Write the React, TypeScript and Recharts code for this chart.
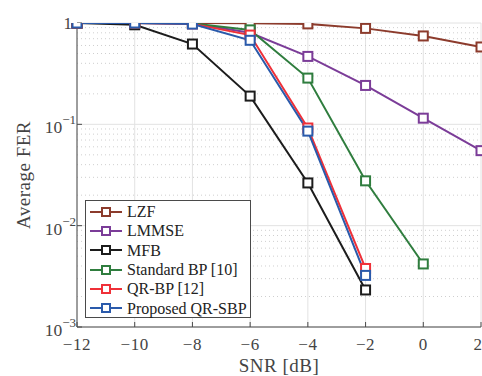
import React from "react";
import {
  LineChart,
  Line,
  XAxis,
  YAxis,
  CartesianGrid,
  Legend,
  ReferenceLine,
} from "recharts";

// SNR [dB]
const snr = [-12, -10, -8, -6, -4, -2, 0, 2];

// Average FER per detector
const lzf = [1, 1, 1, 0.995, 0.98, 0.885, 0.745, 0.58];
const lmmse = [1, 1, 0.99, 0.8, 0.468, 0.242, 0.115, 0.055];
const mfb = [1, 0.96, 0.62, 0.19, 0.0264, 0.00232, null, null];
const standardBp = [1, 1, 0.99, 0.855, 0.286, 0.0277, 0.00419, null];
const qrBp = [1, 1, 0.98, 0.76, 0.092, 0.00378, null, null];
const proposed = [1, 1, 0.975, 0.675, 0.0857, 0.00323, null, null];

const yTicks = [0.001, 0.01, 0.1, 1];
const yTickLabels = ["10|−3", "10|−2", "10|−1", "1"];
const minorTicks = [
  0.002, 0.003, 0.004, 0.005, 0.006, 0.007, 0.008, 0.009,
  0.02, 0.03, 0.04, 0.05, 0.06, 0.07, 0.08, 0.09,
  0.2, 0.3, 0.4, 0.5, 0.6, 0.7, 0.8, 0.9,
];

const series = [
  { key: "lzf", name: "LZF", color: "#8c3b2c" },
  { key: "lmmse", name: "LMMSE", color: "#7b3c98" },
  { key: "mfb", name: "MFB", color: "#1c1c1c" },
  { key: "standardBp", name: "Standard BP [10]", color: "#2f7d3e" },
  { key: "qrBp", name: "QR-BP [12]", color: "#ef3038" },
  { key: "proposed", name: "Proposed QR-SBP", color: "#2a5aab" },
];

const data = snr.map((s, i) => ({
  snr: s,
  lzf: lzf[i],
  lmmse: lmmse[i],
  mfb: mfb[i],
  standardBp: standardBp[i],
  qrBp: qrBp[i],
  proposed: proposed[i],
}));

const FONT = '"Liberation Serif", "Times New Roman", serif';
const AXIS = "#4a4a4a";

function XTick(props: any) {
  const { x, y, payload } = props;
  return (
    <text
      x={x}
      y={y + 26}
      textAnchor="middle"
      fontFamily={FONT}
      fontSize={17}
      letterSpacing={0.6}
      fill="#444"
    >
      {String(payload.value).replace("-", "−")}
    </text>
  );
}

function YTick(props: any) {
  const { x, y, payload } = props;
  const idx = yTicks.indexOf(payload.value);
  const label = yTickLabels[idx] ?? "";
  const [base, exp] = label.split("|");
  if (!exp) {
    return (
      <text x={x - 8} y={y + 5.5} textAnchor="end" fontFamily={FONT} fontSize={17} fill="#444">
        {base}
      </text>
    );
  }
  return (
    <text x={x - 4} y={y + 9} textAnchor="end" fontFamily={FONT} fontSize={17.5} fill="#444">
      {base}
      <tspan dy={-9} fontSize={13}>
        {exp}
      </tspan>
    </text>
  );
}

function EmptyTick() {
  return <g />;
}

function LegendBox() {
  return (
    <div
      style={{
        background: "#fff",
        border: `1px solid ${AXIS}`,
        boxSizing: "border-box",
        width: 166,
        height: 118,
        paddingTop: 1,
        fontFamily: FONT,
        fontSize: 16,
        color: "#222",
      }}
    >
      {series.map((s) => (
        <div
          key={s.key}
          style={{ display: "flex", alignItems: "center", height: 19.3, whiteSpace: "nowrap" }}
        >
          <svg width={38} height={14} style={{ marginLeft: 3, flex: "none" }}>
            <line x1={1} y1={7} x2={33} y2={7} stroke={s.color} strokeWidth={2} />
            <rect x={13} y={3} width={8} height={8} fill="#fff" stroke={s.color} strokeWidth={2} />
          </svg>
          <span style={{ lineHeight: "19px" }}>{s.name}</span>
        </div>
      ))}
    </div>
  );
}

function SquareDot(color: string) {
  return (props: any) => {
    const { cx, cy, value, index } = props;
    if (value == null || cx == null || cy == null) return <g key={index} />;
    return (
      <rect
        key={index}
        x={cx - 4.5}
        y={cy - 4.5}
        width={9}
        height={9}
        fill="#fff"
        stroke={color}
        strokeWidth={2}
      />
    );
  };
}

export default function App() {
  return (
    <div style={{ position: "absolute", left: 0, top: 0, width: 482, height: 376, background: "#fff" }}>
      <LineChart
        width={482}
        height={376}
        data={data}
        margin={{ top: 23, right: 1, bottom: 0, left: 0 }}
      >
        <CartesianGrid stroke="#e2e2e2" strokeWidth={1} />
        {minorTicks.map((v) => (
          <ReferenceLine
            key={v}
            y={v}
            stroke="#cfcfcf"
            strokeDasharray="1 3"
            strokeWidth={1}
          />
        ))}
        <XAxis
          dataKey="snr"
          type="number"
          domain={[-12, 2]}
          ticks={snr}
          height={49}
          tickSize={-5}
          stroke={AXIS}
          tick={<XTick />}
          label={{
            value: "SNR [dB]",
            position: "insideBottom",
            offset: 4,
            style: { fontFamily: FONT, fontSize: 19, fill: "#444", letterSpacing: 0.5 },
          }}
        />
        <XAxis
          xAxisId="top"
          orientation="top"
          dataKey="snr"
          type="number"
          domain={[-12, 2]}
          ticks={snr}
          height={0}
          tickSize={-5}
          stroke={AXIS}
          tick={<EmptyTick />}
        />
        <YAxis
          type="number"
          scale="log"
          domain={[0.001, 1]}
          ticks={yTicks}
          allowDataOverflow
          width={77}
          tickSize={-5}
          stroke={AXIS}
          tick={<YTick />}
          label={{
            value: "Average FER",
            angle: -90,
            position: "insideLeft",
            offset: 23,
            style: { textAnchor: "middle", fontFamily: FONT, fontSize: 19, fill: "#444", letterSpacing: 0.5 },
          }}
        />
        <YAxis
          yAxisId="right"
          orientation="right"
          type="number"
          scale="log"
          domain={[0.001, 1]}
          ticks={yTicks}
          allowDataOverflow
          width={0}
          tickSize={-5}
          stroke={AXIS}
          tick={<EmptyTick />}
        />
        <Legend
          layout="horizontal"
          verticalAlign="middle"
          align="center"
          content={() => <LegendBox />}
          wrapperStyle={{ position: "absolute", left: 85, top: 200, width: 166, height: 118 }}
        />
        {series.map((s) => (
          <Line
            key={s.key}
            type="linear"
            dataKey={s.key}
            name={s.name}
            stroke={s.color}
            strokeWidth={2}
            dot={SquareDot(s.color)}
            activeDot={false}
            connectNulls={false}
            isAnimationActive={false}
          />
        ))}
      </LineChart>
    </div>
  );
}
